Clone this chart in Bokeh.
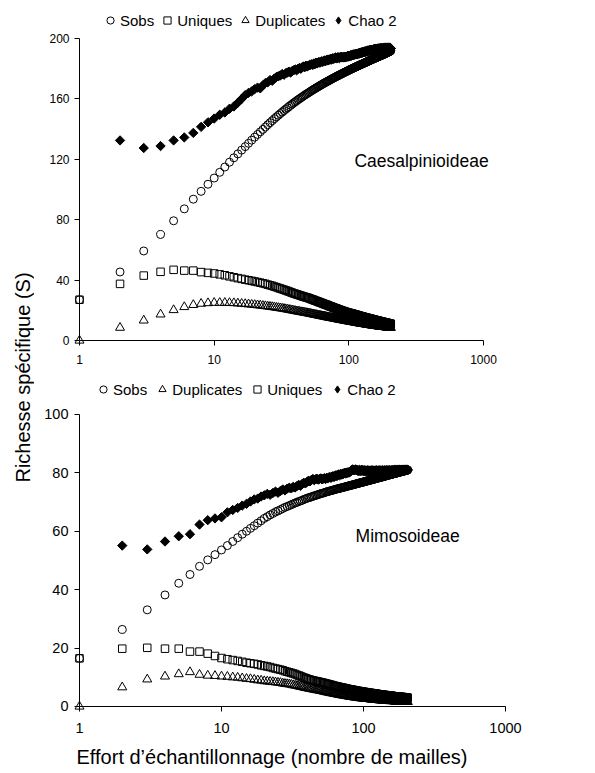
import numpy as np
from bokeh.plotting import figure
from bokeh.models import (Range1d, FixedTicker, PrintfTickFormatter, Label,
                          Legend, LegendItem, LinearAxis, LogAxis)
from bokeh.layouts import row, column
from bokeh.embed import file_html
from bokeh.resources import INLINE

FONT = "Liberation Sans"
nan = float("nan")

# ---------------- data: Caesalpinioideae (sample-based accumulation, n = 1..205)
caes_sobs = [
    27.0, 45.4, 59.3, 70.2, 79.3, 87.2, 93.6, 98.8, 103.5, 107.6,
    111.4, 114.9, 118.1, 121.0, 123.6, 126.1, 128.4, 130.6, 132.7, 134.7,
    136.5, 138.2, 139.8, 141.4, 142.9, 144.3, 145.6, 146.9, 148.1, 149.2,
    150.3, 151.3, 152.3, 153.2, 154.1, 155.0, 155.8, 156.6, 157.4, 158.1,
    158.8, 159.5, 160.1, 160.7, 161.3, 161.9, 162.5, 163.0, 163.5, 164.0,
    164.5, 165.0, 165.5, 165.9, 166.4, 166.8, 167.2, 167.6, 168.0, 168.4,
    168.8, 169.2, 169.5, 169.9, 170.2, 170.6, 170.9, 171.2, 171.5, 171.8,
    172.1, 172.4, 172.7, 173.0, 173.3, 173.6, 173.8, 174.1, 174.4, 174.6,
    174.9, 175.1, 175.4, 175.6, 175.8, 176.1, 176.3, 176.5, 176.7, 177.0,
    177.2, 177.4, 177.6, 177.8, 178.0, 178.2, 178.4, 178.6, 178.8, 179.0,
    179.2, 179.4, 179.6, 179.7, 179.9, 180.1, 180.3, 180.4, 180.6, 180.8,
    180.9, 181.1, 181.3, 181.4, 181.6, 181.7, 181.9, 182.0, 182.2, 182.3,
    182.5, 182.6, 182.8, 182.9, 183.1, 183.2, 183.3, 183.5, 183.6, 183.8,
    183.9, 184.0, 184.2, 184.3, 184.4, 184.6, 184.7, 184.8, 184.9, 185.1,
    185.2, 185.3, 185.4, 185.6, 185.7, 185.8, 185.9, 186.0, 186.2, 186.3,
    186.4, 186.5, 186.6, 186.7, 186.8, 187.0, 187.1, 187.2, 187.3, 187.4,
    187.5, 187.6, 187.7, 187.8, 187.9, 188.0, 188.1, 188.2, 188.3, 188.4,
    188.5, 188.6, 188.7, 188.8, 188.9, 189.0, 189.1, 189.2, 189.3, 189.4,
    189.5, 189.6, 189.7, 189.8, 189.9, 190.0, 190.1, 190.2, 190.3, 190.4,
    190.5, 190.6, 190.7, 190.8, 190.9, 191.0, 191.1, 191.2, 191.3, 191.4,
    191.5, 191.6, 191.7, 191.8, 192.0,
]
caes_uniques = [
    27.0, 37.5, 43.0, 45.5, 46.8, 46.3, 46.3, 45.3, 44.8, 44.4,
    43.8, 43.2, 42.5, 41.9, 41.3, 40.8, 40.3, 39.9, 39.5, 39.1,
    38.7, 38.3, 37.9, 37.5, 37.0, 36.6, 36.2, 35.7, 35.3, 34.8,
    34.4, 34.0, 33.6, 33.2, 32.8, 32.4, 32.0, 31.6, 31.2, 30.9,
    30.6, 30.3, 30.0, 29.7, 29.4, 29.1, 28.9, 28.6, 28.4, 28.2,
    27.9, 27.6, 27.3, 27.1, 26.8, 26.5, 26.3, 26.0, 25.8, 25.5,
    25.3, 25.0, 24.8, 24.6, 24.3, 24.1, 23.9, 23.7, 23.5, 23.3,
    23.0, 22.8, 22.6, 22.4, 22.2, 22.0, 21.8, 21.6, 21.4, 21.3,
    21.1, 20.9, 20.7, 20.5, 20.4, 20.2, 20.0, 19.9, 19.7, 19.6,
    19.4, 19.3, 19.1, 19.0, 18.9, 18.7, 18.6, 18.5, 18.4, 18.3,
    18.2, 18.1, 18.0, 17.9, 17.8, 17.7, 17.6, 17.5, 17.4, 17.3,
    17.2, 17.1, 17.0, 16.9, 16.8, 16.7, 16.6, 16.5, 16.4, 16.3,
    16.2, 16.1, 16.0, 15.9, 15.9, 15.8, 15.7, 15.6, 15.5, 15.4,
    15.4, 15.3, 15.2, 15.1, 15.0, 15.0, 14.9, 14.8, 14.7, 14.7,
    14.6, 14.5, 14.4, 14.4, 14.3, 14.2, 14.2, 14.1, 14.0, 14.0,
    13.9, 13.8, 13.8, 13.7, 13.6, 13.6, 13.5, 13.4, 13.4, 13.3,
    13.3, 13.2, 13.1, 13.1, 13.0, 13.0, 12.9, 12.8, 12.8, 12.7,
    12.7, 12.6, 12.6, 12.5, 12.5, 12.4, 12.3, 12.3, 12.2, 12.2,
    12.1, 12.1, 12.0, 12.0, 11.9, 11.9, 11.8, 11.8, 11.7, 11.7,
    11.6, 11.6, 11.5, 11.5, 11.4, 11.4, 11.3, 11.3, 11.2, 11.2,
    11.1, 11.1, 11.0, 11.0, 11.0,
]
caes_duplicates = [
    0.0, 8.5, 13.3, 17.3, 20.2, 22.2, 23.6, 24.4, 24.8, 25.0,
    25.0, 25.0, 24.9, 24.8, 24.6, 24.4, 24.2, 24.0, 23.8, 23.6,
    23.4, 23.2, 23.0, 22.8, 22.6, 22.4, 22.2, 22.0, 21.8, 21.6,
    21.4, 21.2, 21.0, 20.8, 20.6, 20.4, 20.2, 20.0, 19.8, 19.6,
    19.4, 19.3, 19.1, 18.9, 18.8, 18.6, 18.5, 18.3, 18.2, 18.0,
    17.9, 17.7, 17.6, 17.4, 17.3, 17.1, 17.0, 16.9, 16.7, 16.6,
    16.5, 16.4, 16.2, 16.1, 16.0, 15.9, 15.8, 15.6, 15.5, 15.4,
    15.3, 15.2, 15.1, 15.0, 14.9, 14.8, 14.7, 14.6, 14.5, 14.4,
    14.3, 14.2, 14.1, 14.0, 14.0, 13.9, 13.8, 13.7, 13.6, 13.5,
    13.5, 13.4, 13.3, 13.2, 13.1, 13.1, 13.0, 12.9, 12.8, 12.8,
    12.7, 12.6, 12.6, 12.5, 12.4, 12.4, 12.3, 12.2, 12.2, 12.1,
    12.0, 12.0, 11.9, 11.8, 11.8, 11.7, 11.7, 11.6, 11.5, 11.5,
    11.4, 11.4, 11.3, 11.3, 11.2, 11.2, 11.1, 11.1, 11.0, 11.0,
    10.9, 10.9, 10.8, 10.8, 10.7, 10.7, 10.6, 10.6, 10.5, 10.5,
    10.4, 10.4, 10.4, 10.3, 10.3, 10.2, 10.2, 10.1, 10.1, 10.1,
    10.0, 10.0, 9.9, 9.9, 9.9, 9.8, 9.8, 9.8, 9.7, 9.7,
    9.7, 9.6, 9.6, 9.6, 9.5, 9.5, 9.5, 9.4, 9.4, 9.4,
    9.3, 9.3, 9.3, 9.3, 9.2, 9.2, 9.2, 9.1, 9.1, 9.1,
    9.1, 9.0, 9.0, 9.0, 9.0, 8.9, 8.9, 8.9, 8.9, 8.8,
    8.8, 8.8, 8.8, 8.7, 8.7, 8.7, 8.7, 8.6, 8.6, 8.6,
    8.6, 8.5, 8.5, 8.5, 8.5,
]
caes_chao2 = [
    nan, 132.5, 127.5, 128.8, 132.5, 134.5, 137.5, 141.5, 144.5, 147.0,
    149.5, 151.0, 153.5, 155.0, 157.5, 160.0, 162.5, 164.0, 165.0, 166.5,
    167.5, 167.0, 169.0, 170.5, 171.0, 172.5, 172.0, 173.5, 174.5, 175.0,
    175.5, 176.5, 176.0, 177.0, 177.5, 178.0, 177.5, 178.5, 179.0, 179.5,
    179.0, 180.0, 180.5, 180.0, 181.0, 181.5, 181.0, 182.0, 181.5, 182.0,
    182.5, 182.5, 183.0, 182.5, 183.5, 183.0, 184.0, 183.5, 184.0, 184.5,
    184.0, 184.5, 185.0, 184.5, 185.0, 185.5, 185.0, 185.5, 186.0, 185.5,
    186.0, 186.0, 186.5, 186.0, 186.5, 187.0, 186.5, 187.0, 187.0, 187.5,
    187.0, 187.0, 187.5, 187.5, 187.0, 187.5, 187.5, 188.0, 187.5, 187.5,
    187.5, 187.5, 188.0, 187.5, 188.0, 188.0, 188.0, 188.5, 188.0, 188.5,
    188.5, 188.5, 189.0, 188.5, 189.0, 189.0, 189.0, 189.5, 189.0, 189.5,
    189.5, 189.5, 189.5, 190.0, 189.5, 190.0, 190.0, 190.0, 190.5, 190.0,
    190.5, 190.5, 190.5, 190.5, 191.0, 190.5, 191.0, 191.0, 191.0, 191.0,
    191.5, 191.0, 191.5, 191.5, 191.5, 191.5, 192.0, 191.5, 192.0, 192.0,
    192.0, 192.0, 192.0, 192.5, 192.0, 192.5, 192.5, 192.5, 192.5, 192.5,
    192.5, 192.5, 193.0, 192.5, 193.0, 193.0, 192.5, 193.0, 193.0, 193.0,
    193.0, 193.0, 193.0, 193.0, 193.5, 193.0, 193.0, 193.5, 193.0, 193.5,
    193.5, 193.0, 193.5, 193.5, 193.5, 193.0, 193.5, 193.5, 193.5, 193.5,
    193.5, 193.5, 193.5, 194.0, 193.5, 193.5, 193.5, 194.0, 193.5, 193.5,
    193.5, 194.0, 193.5, 193.5, 194.0, 193.5, 193.5, 194.0, 193.5, 193.5,
    194.0, 193.5, 193.5, 193.5, 193.5,
]

# ---------------- data: Mimosoideae
mimo_sobs = [
    16.5, 26.4, 33.1, 38.2, 42.2, 45.2, 48.0, 50.2, 52.0, 53.6,
    55.1, 56.5, 57.8, 59.0, 60.0, 61.0, 61.9, 62.8, 63.6, 64.4,
    65.0, 65.6, 66.1, 66.6, 67.0, 67.4, 67.8, 68.2, 68.5, 68.8,
    69.1, 69.4, 69.7, 69.9, 70.2, 70.4, 70.6, 70.9, 71.1, 71.3,
    71.5, 71.6, 71.8, 72.0, 72.1, 72.3, 72.4, 72.6, 72.7, 72.9,
    73.0, 73.1, 73.2, 73.4, 73.5, 73.6, 73.7, 73.8, 73.9, 74.0,
    74.1, 74.2, 74.3, 74.4, 74.5, 74.6, 74.6, 74.7, 74.8, 74.9,
    75.0, 75.0, 75.1, 75.2, 75.3, 75.3, 75.4, 75.5, 75.6, 75.6,
    75.7, 75.8, 75.8, 75.9, 76.0, 76.0, 76.1, 76.2, 76.2, 76.3,
    76.4, 76.4, 76.5, 76.5, 76.6, 76.7, 76.7, 76.8, 76.8, 76.9,
    76.9, 77.0, 77.1, 77.1, 77.2, 77.2, 77.3, 77.3, 77.4, 77.4,
    77.5, 77.5, 77.6, 77.6, 77.7, 77.7, 77.8, 77.8, 77.9, 77.9,
    78.0, 78.0, 78.1, 78.1, 78.2, 78.2, 78.3, 78.3, 78.3, 78.4,
    78.4, 78.5, 78.5, 78.6, 78.6, 78.6, 78.7, 78.7, 78.8, 78.8,
    78.9, 78.9, 78.9, 79.0, 79.0, 79.1, 79.1, 79.1, 79.2, 79.2,
    79.3, 79.3, 79.3, 79.4, 79.4, 79.4, 79.5, 79.5, 79.6, 79.6,
    79.6, 79.7, 79.7, 79.7, 79.8, 79.8, 79.8, 79.9, 79.9, 79.9,
    80.0, 80.0, 80.0, 80.1, 80.1, 80.1, 80.2, 80.2, 80.2, 80.3,
    80.3, 80.3, 80.4, 80.4, 80.4, 80.4, 80.5, 80.5, 80.5, 80.6,
    80.6, 80.6, 80.6, 80.7, 80.7, 80.7, 80.8, 80.8, 80.8, 80.8,
    80.9, 80.9, 80.9, 81.0, 81.0,
]
mimo_duplicates = [
    0.0, 6.6, 9.3, 10.3, 11.1, 11.8, 10.9, 10.6, 10.5, 10.3,
    10.2, 10.0, 9.9, 9.7, 9.5, 9.4, 9.2, 9.0, 8.9, 8.7,
    8.6, 8.5, 8.4, 8.3, 8.2, 8.1, 7.9, 7.8, 7.7, 7.6,
    7.5, 7.3, 7.2, 7.1, 6.9, 6.8, 6.7, 6.5, 6.4, 6.3,
    6.2, 6.1, 6.0, 5.9, 5.8, 5.7, 5.6, 5.6, 5.5, 5.4,
    5.3, 5.2, 5.1, 5.0, 4.9, 4.9, 4.8, 4.7, 4.6, 4.6,
    4.5, 4.4, 4.4, 4.3, 4.2, 4.2, 4.1, 4.0, 4.0, 3.9,
    3.9, 3.8, 3.8, 3.7, 3.7, 3.6, 3.6, 3.5, 3.5, 3.4,
    3.4, 3.4, 3.3, 3.3, 3.2, 3.2, 3.2, 3.1, 3.1, 3.1,
    3.0, 3.0, 3.0, 2.9, 2.9, 2.9, 2.9, 2.8, 2.8, 2.8,
    2.8, 2.7, 2.7, 2.7, 2.7, 2.6, 2.6, 2.6, 2.6, 2.6,
    2.5, 2.5, 2.5, 2.5, 2.5, 2.4, 2.4, 2.4, 2.4, 2.4,
    2.4, 2.3, 2.3, 2.3, 2.3, 2.3, 2.3, 2.2, 2.2, 2.2,
    2.2, 2.2, 2.2, 2.2, 2.1, 2.1, 2.1, 2.1, 2.1, 2.1,
    2.1, 2.1, 2.0, 2.0, 2.0, 2.0, 2.0, 2.0, 2.0, 2.0,
    2.0, 1.9, 1.9, 1.9, 1.9, 1.9, 1.9, 1.9, 1.9, 1.9,
    1.9, 1.9, 1.9, 1.8, 1.8, 1.8, 1.8, 1.8, 1.8, 1.8,
    1.8, 1.8, 1.8, 1.8, 1.8, 1.8, 1.8, 1.7, 1.7, 1.7,
    1.7, 1.7, 1.7, 1.7, 1.7, 1.7, 1.7, 1.7, 1.7, 1.7,
    1.7, 1.6, 1.6, 1.6, 1.6, 1.6, 1.6, 1.6, 1.6, 1.6,
    1.6, 1.6, 1.6, 1.6, 1.6,
]
mimo_uniques = [
    16.5, 19.8, 20.1, 19.8, 19.8, 18.8, 18.8, 18.1, 17.3, 16.6,
    16.2, 15.9, 15.6, 15.3, 15.0, 14.8, 14.6, 14.4, 14.1, 13.9,
    13.7, 13.5, 13.2, 13.0, 12.8, 12.6, 12.4, 12.1, 11.9, 11.7,
    11.5, 11.3, 11.1, 10.8, 10.6, 10.4, 10.1, 9.9, 9.7, 9.5,
    9.3, 9.2, 9.0, 8.9, 8.8, 8.7, 8.6, 8.5, 8.4, 8.3,
    8.2, 8.1, 8.0, 7.9, 7.8, 7.7, 7.6, 7.5, 7.4, 7.3,
    7.2, 7.1, 7.0, 6.9, 6.9, 6.8, 6.7, 6.6, 6.6, 6.5,
    6.4, 6.4, 6.3, 6.2, 6.2, 6.1, 6.0, 6.0, 5.9, 5.9,
    5.8, 5.8, 5.7, 5.7, 5.6, 5.6, 5.5, 5.5, 5.4, 5.4,
    5.3, 5.3, 5.3, 5.2, 5.2, 5.1, 5.1, 5.1, 5.0, 5.0,
    5.0, 4.9, 4.9, 4.9, 4.8, 4.8, 4.8, 4.7, 4.7, 4.7,
    4.6, 4.6, 4.6, 4.6, 4.5, 4.5, 4.5, 4.4, 4.4, 4.4,
    4.4, 4.3, 4.3, 4.3, 4.3, 4.2, 4.2, 4.2, 4.2, 4.1,
    4.1, 4.1, 4.1, 4.0, 4.0, 4.0, 4.0, 4.0, 3.9, 3.9,
    3.9, 3.9, 3.9, 3.8, 3.8, 3.8, 3.8, 3.8, 3.7, 3.7,
    3.7, 3.7, 3.7, 3.7, 3.6, 3.6, 3.6, 3.6, 3.6, 3.6,
    3.5, 3.5, 3.5, 3.5, 3.5, 3.5, 3.5, 3.4, 3.4, 3.4,
    3.4, 3.4, 3.4, 3.4, 3.3, 3.3, 3.3, 3.3, 3.3, 3.3,
    3.3, 3.3, 3.2, 3.2, 3.2, 3.2, 3.2, 3.2, 3.2, 3.2,
    3.1, 3.1, 3.1, 3.1, 3.1, 3.1, 3.1, 3.1, 3.0, 3.0,
    3.0, 3.0, 3.0, 3.0, 3.0,
]
mimo_chao2 = [
    nan, 55.1, 53.8, 56.5, 58.3, 59.0, 62.3, 63.8, 64.4, 64.8,
    66.5, 67.3, 68.0, 68.8, 69.4, 70.2, 70.9, 71.2, 71.9, 72.3,
    72.8, 72.5, 73.1, 73.6, 73.2, 73.8, 74.3, 74.0, 74.6, 74.9,
    74.7, 75.2, 75.0, 75.5, 75.9, 75.6, 76.2, 76.6, 76.4, 76.9,
    77.3, 77.1, 77.6, 77.9, 77.5, 77.8, 78.0, 77.7, 77.9, 78.1,
    77.8, 78.0, 78.2, 77.9, 78.3, 78.1, 78.4, 78.6, 78.3, 78.7,
    78.9, 78.6, 79.0, 79.2, 78.9, 79.3, 79.5, 79.2, 79.6, 79.4,
    79.7, 79.6, 79.9, 80.0, 79.8, 80.1, 80.0, 80.2, 80.1, 80.3,
    80.5, 80.8, 81.0, 81.2, 80.9, 81.1, 81.0, 81.2, 80.9, 81.0,
    80.7, 80.9, 80.6, 81.0, 80.8, 80.6, 80.9, 81.1, 80.7, 80.8,
    80.6, 80.9, 80.7, 80.5, 80.8, 80.6, 80.9, 80.7, 80.5, 80.8,
    80.6, 80.8, 80.5, 80.7, 80.9, 80.6, 80.8, 80.5, 80.7, 80.6,
    80.8, 80.6, 80.9, 80.7, 80.5, 80.8, 80.6, 80.7, 80.9, 80.6,
    80.8, 80.7, 80.5, 80.8, 80.6, 80.9, 80.7, 80.6, 80.8, 80.7,
    80.9, 80.6, 80.8, 80.7, 80.9, 80.6, 80.8, 80.7, 80.9, 80.8,
    80.6, 80.8, 80.9, 80.7, 80.8, 80.6, 80.9, 80.8, 80.7, 80.9,
    80.8, 80.7, 80.9, 80.8, 81.0, 80.7, 80.9, 80.8, 81.0, 80.8,
    80.9, 80.7, 81.0, 80.8, 80.9, 81.0, 80.8, 80.9, 81.0, 80.9,
    81.0, 80.8, 80.9, 81.0, 80.9, 81.0, 80.9, 81.0, 81.1, 80.9,
    81.0, 81.1, 80.9, 81.0, 81.1, 81.0, 81.1, 81.0, 81.1, 81.0,
    81.1, 81.0, 81.1, 81.1, 81.0,
]

x_ticks = [1, 10, 100, 1000]
caes_y_ticks = [0, 40, 80, 120, 160, 200]
mimo_y_ticks = [0, 20, 40, 60, 80, 100]

# page geometry (px): frames share left/right edges (column alignment)
BORDER_L, BORDER_R = 39, 67


def effort_for(series):
    return np.arange(1, len(series) + 1)


def style_axes(p, yticks, ymax, tick_size, xstand, ystand):
    # axis lines + ticks pinned at x=1 / y=0 (frame extends a little past them)
    xa, ya = p.xaxis[0], p.yaxis[0]
    xa.ticker = FixedTicker(ticks=x_ticks, minor_ticks=[])
    ya.ticker = FixedTicker(ticks=yticks, minor_ticks=[])
    xa.bounds = (1, 1000)
    ya.bounds = (0, ymax)
    xa.fixed_location = 0
    ya.fixed_location = 1
    for ax in (xa, ya):
        ax.axis_line_color = "black"
        ax.axis_line_width = 1
        ax.major_tick_line_color = "black"
        ax.major_tick_out = 5
        ax.major_tick_in = 0
        ax.minor_tick_line_color = None
        ax.major_label_text_font_size = "0px"
        ax.major_label_text_alpha = 0
        ax.major_label_standoff = 0
    # label-only axes at the frame edge
    xl = LogAxis(ticker=FixedTicker(ticks=x_ticks, minor_ticks=[]),
                 formatter=PrintfTickFormatter(format="%d"))
    yl = LinearAxis(ticker=FixedTicker(ticks=yticks, minor_ticks=[]))
    for ax, st in ((xl, xstand), (yl, ystand)):
        ax.axis_line_color = None
        ax.major_tick_line_color = None
        ax.minor_tick_line_color = None
        ax.major_tick_out = 0
        ax.major_tick_in = 0
        ax.major_label_standoff = st
        ax.major_label_text_font = FONT
        ax.major_label_text_font_size = tick_size
        ax.major_label_text_color = "black"
    p.add_layout(xl, "below")
    p.add_layout(yl, "left")
    p.below = [xl, xa]
    p.left = [yl, ya]
    p.xgrid.visible = False
    p.ygrid.visible = False
    p.outline_line_color = None


def add_series(p, s, u, d, c, order):
    r = {}
    r["Sobs"] = p.scatter(effort_for(s), s, marker="circle", size=8,
                          line_color="black", line_width=1, fill_color=None)
    r["Uniques"] = p.scatter(effort_for(u), u, marker="square", size=7.5,
                             line_color="black", line_width=1, fill_color=None)
    r["Duplicates"] = p.scatter(effort_for(d), d, marker="triangle", size=9,
                                line_color="black", line_width=1, fill_color=None)
    p.scatter(effort_for(c), c, marker="square", angle=np.pi / 4,
              size=6.6, line_color="black", line_width=1, fill_color="black")
    # hidden twin of Chao 2 used only as the diamond legend swatch
    r["Chao 2"] = p.scatter(effort_for(c), c, marker="diamond", size=10,
                            line_color="black", line_width=1, fill_color="black",
                            visible=False)
    return [LegendItem(label=k, renderers=[r[k]]) for k in order]


def make_legend(items, loc, fsize, spacing):
    return Legend(items=items, orientation="horizontal", location=loc,
                  glyph_width=18, glyph_height=20, label_standoff=1,
                  spacing=spacing, padding=0, margin=0,
                  border_line_color=None, background_fill_alpha=0,
                  inactive_fill_alpha=0, click_policy="none",
                  label_text_font=FONT, label_text_font_size=fsize,
                  label_text_color="black", label_height=20)


# ---------------- top panel (Caesalpinioideae)
top = figure(width=553, height=375, x_axis_type="log",
             x_range=Range1d(0.9026, 1883), y_range=Range1d(-3.97, 223.2),
             output_backend="svg", toolbar_location=None,
             min_border_left=BORDER_L, min_border_right=BORDER_R,
             min_border_top=3, min_border_bottom=29)
style_axes(top, caes_y_ticks, 200, "12px", 8, 4)
items_top = add_series(top, caes_sobs, caes_uniques, caes_duplicates, caes_chao2,
                       ["Sobs", "Uniques", "Duplicates", "Chao 2"])
top.add_layout(make_legend(items_top, (28, 316), "15px", 4), "center")
top.add_layout(Label(x=110, y=119, text="Caesalpinioideae", text_font=FONT,
                     text_font_size="17.5px", text_baseline="middle",
                     text_align="left", text_color="black"))

# ---------------- bottom panel (Mimosoideae)
bot = figure(width=553, height=371, x_axis_type="log",
             x_range=Range1d(0.9073, 1275.5), y_range=Range1d(-2.055, 113.0),
             output_backend="svg", toolbar_location=None,
             min_border_left=BORDER_L, min_border_right=BORDER_R,
             min_border_top=1, min_border_bottom=34)
style_axes(bot, mimo_y_ticks, 100, "14.5px", 10, 5)
items_bot = add_series(bot, mimo_sobs, mimo_uniques, mimo_duplicates, mimo_chao2,
                       ["Sobs", "Duplicates", "Uniques", "Chao 2"])
bot.add_layout(make_legend(items_bot, (21, 313), "15px", 6), "center")
bot.add_layout(Label(x=88, y=58.3, text="Mimosoideae", text_font=FONT,
                     text_font_size="17.5px", text_baseline="middle",
                     text_align="left", text_color="black"))

# ---------------- x-axis title strip (data units = page px)
xlab = figure(width=553, height=27, x_range=Range1d(73, 520), y_range=Range1d(773, 746),
              output_backend="svg", toolbar_location=None,
              min_border_left=BORDER_L, min_border_right=BORDER_R,
              min_border_top=0, min_border_bottom=0)
xlab.axis.visible = False
xlab.xgrid.visible = False
xlab.ygrid.visible = False
xlab.outline_line_color = None
xlab.add_layout(Label(x=76, y=756, text="Effort d\u2019\u00e9chantillonnage (nombre de mailles)",
                      text_font=FONT, text_font_size="20px", text_baseline="middle",
                      text_align="left", text_color="black"))

# ---------------- shared y-axis title strip (data units = page px)
lab = figure(width=34, height=773, x_range=Range1d(0, 34), y_range=Range1d(773, 0),
             output_backend="svg", toolbar_location=None,
             min_border_left=0, min_border_right=0,
             min_border_top=0, min_border_bottom=0)
lab.axis.visible = False
lab.xgrid.visible = False
lab.ygrid.visible = False
lab.outline_line_color = None
lab.add_layout(Label(x=22, y=377, text="Richesse sp\u00e9cifique (S)", angle=np.pi / 2,
                     text_font=FONT, text_font_size="20px", text_baseline="middle",
                     text_align="center", text_color="black"))

layout = row(lab, column(top, bot, xlab))
open("out.html", "w").write(file_html(layout, INLINE))
